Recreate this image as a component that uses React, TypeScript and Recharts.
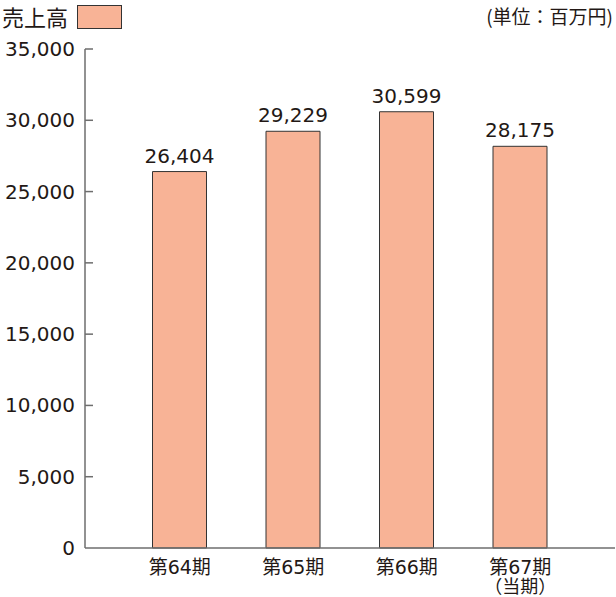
import { BarChart, Bar, XAxis, YAxis, LabelList } from 'recharts';

const periods = ['第64期', '第65期', '第66期', '第67期'];
const subLabels = ['', '', '', '（当期）'];
const sales = [26404, 29229, 30599, 28175];
const yTicks = [0, 5000, 10000, 15000, 20000, 25000, 30000, 35000];

const FONT = '"DejaVu Sans", "Noto Sans CJK JP", sans-serif';
const JP_FONT = '"Noto Sans CJK JP", sans-serif';
const TEXT = '#231815';
const BAR_FILL = '#F8B396';
const AXIS = '#6e6e6e';

const data = periods.map((p, i) => ({ period: p, sales: sales[i] }));

const fmt = (v: number) => v.toLocaleString('en-US');

// tick label plus a short inward tick mark (the axis sits 10px right of the label)
function YTick(props: any) {
  const { x, y, payload } = props;
  const ax = Number(x) + 10;
  const ty = Number(y);
  return (
    <g>
      <text x={x} y={y} dy={7} textAnchor="end" fontSize={20} fill={TEXT} fontFamily={FONT}>
        {fmt(payload.value)}
      </text>
      {payload.value > 0 ? <rect x={ax} y={ty - 0.75} width={8} height={1.5} fill={AXIS} /> : null}
    </g>
  );
}

function XTick(props: any) {
  const { x, y, payload, index } = props;
  const sub = subLabels[index];
  return (
    <g>
      <text x={x} y={y} dy={16} textAnchor="middle" fontSize={19} fill={TEXT} fontFamily={FONT}>
        {payload.value}
      </text>
      {sub ? (
        <text x={x} y={y} dy={35} textAnchor="middle" fontSize={18} fill={TEXT} fontFamily={JP_FONT}>
          {sub}
        </text>
      ) : null}
    </g>
  );
}

export default function App() {
  return (
    <div style={{ position: 'absolute', left: 0, top: 0, width: 616, height: 597, fontFamily: JP_FONT }}>
      <div style={{ position: 'absolute', left: 2, top: 1, fontSize: 22, color: TEXT, lineHeight: '30px' }}>
        売上高
      </div>
      <div
        style={{
          position: 'absolute',
          left: 77,
          top: 5,
          width: 43,
          height: 22,
          background: BAR_FILL,
          border: '1px solid #333',
        }}
      />
      <div style={{ position: 'absolute', right: 3, top: 3, fontSize: 19, color: TEXT, lineHeight: '26px' }}>
        (単位：百万円)
      </div>
      <BarChart width={616} height={597} data={data} margin={{ top: 49, right: 1, bottom: 0, left: 0 }} barCategoryGap="26%">
        <YAxis
          width={85}
          domain={[0, 35000]}
          ticks={yTicks}
          interval={0}
          tickLine={false}
          tickSize={0}
          tickMargin={10}
          axisLine={{ stroke: AXIS, strokeWidth: 1.5 }}
          tick={<YTick />}
        />
        <XAxis
          dataKey="period"
          height={49}
          padding={{ left: 38, right: 38 }}
          tickLine={false}
          tickSize={0}
          tickMargin={10}
          axisLine={{ stroke: AXIS, strokeWidth: 1.5 }}
          tick={<XTick />}
          interval={0}
        />
        <Bar dataKey="sales" fill={BAR_FILL} stroke="#333" strokeWidth={1} isAnimationActive={false}>
          <LabelList
            dataKey="sales"
            position="top"
            offset={9}
            formatter={(v: any) => fmt(Number(v))}
            style={{ fontSize: 20, fill: TEXT, fontFamily: FONT }}
          />
        </Bar>
      </BarChart>
    </div>
  );
}
